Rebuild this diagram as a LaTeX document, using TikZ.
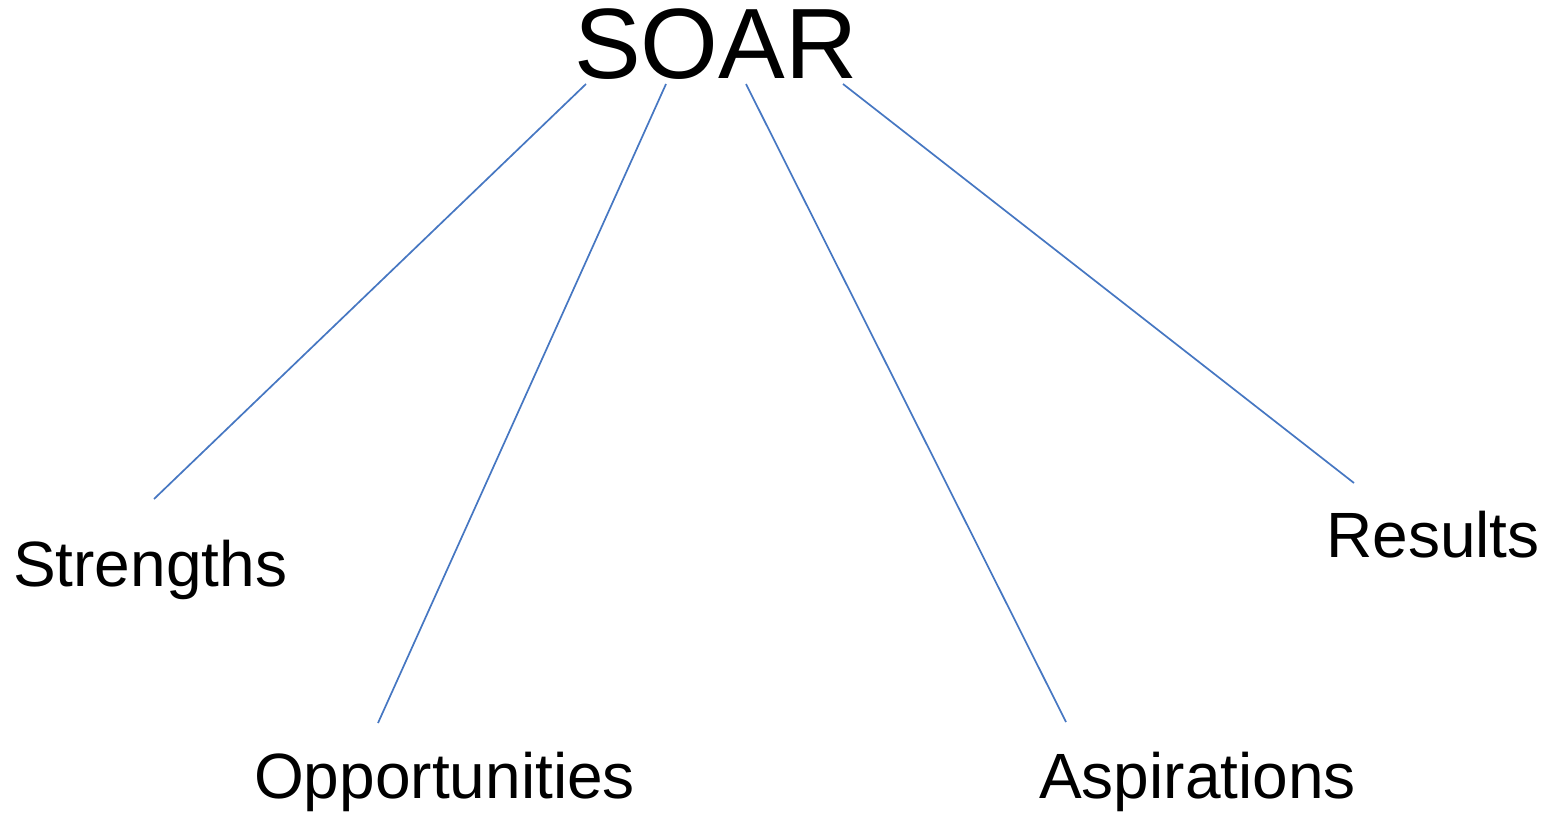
\documentclass[tikz,border=0pt]{standalone}
\usepackage{fontspec}
\setmainfont{Liberation Sans}
\definecolor{linkblue}{HTML}{4677C2}
\begin{document}
\begin{tikzpicture}[x=1pt,y=-1pt,
  title/.style={inner sep=0pt,anchor=base west,font=\fontsize{100}{100}\selectfont},
  item/.style={inner sep=0pt,anchor=base west,font=\fontsize{64}{64}\selectfont},
  link/.style={draw=linkblue,line width=1.7pt}]
\useasboundingbox[fill=white] (0,0) rectangle (1557,814);
% heading and the four terms
\node[title] (soar) at (574,78) {SOAR};
\node[item] (str) at (13,586) {Strengths};
\node[item] (opp) at (254,798) {Opportunities};
\node[item] (asp) at (1039,798) {Aspirations};
\node[item] (res) at (1326,557) {Results};
% free ends of the connectors
\coordinate (s1) at (586,84);
\coordinate (s2) at (666,84);
\coordinate (s3) at (746,84);
\coordinate (s4) at (843,84);
\coordinate (e1) at (154,499);
\coordinate (e2) at (378,723);
\coordinate (e3) at (1066,722);
\coordinate (e4) at (1354,483);
\draw[link] (s1) -- (e1);
\draw[link] (s2) -- (e2);
\draw[link] (s3) -- (e3);
\draw[link] (s4) -- (e4);
\end{tikzpicture}
\end{document}
